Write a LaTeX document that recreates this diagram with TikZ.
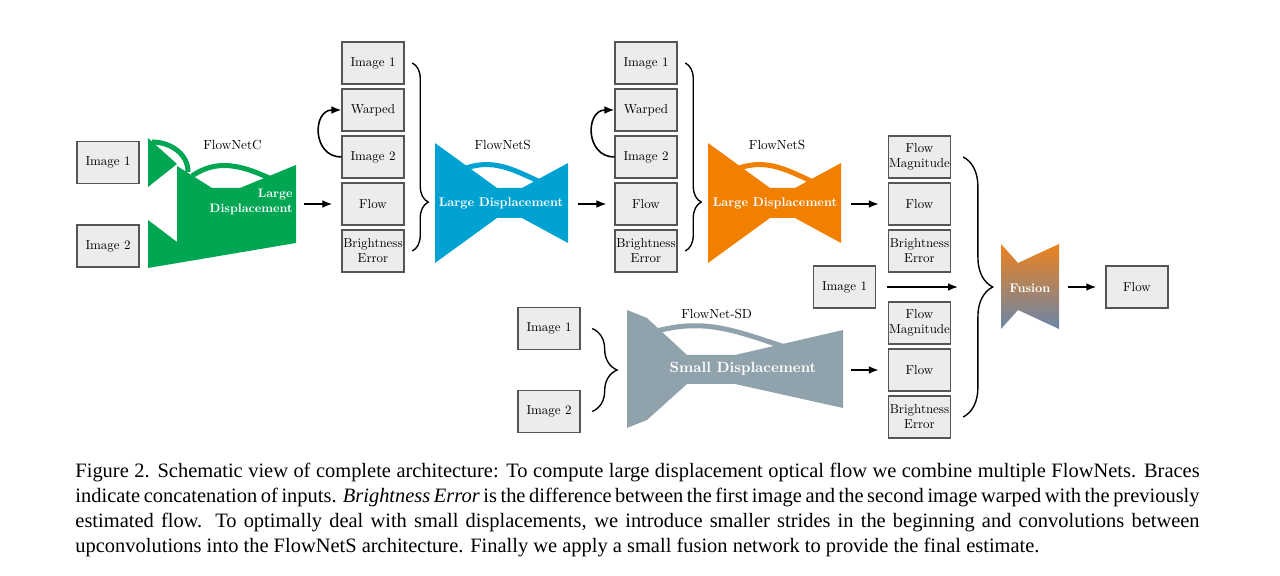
\documentclass[tikz,border=0pt]{standalone}
\usepackage{fontspec}
\usetikzlibrary{arrows.meta,decorations.pathreplacing}
\newfontfamily\capfont{Liberation Serif}
\newfontfamily\lmten{lmroman10-regular.otf}[BoldFont=lmroman10-bold.otf]
\definecolor{netc}{RGB}{0,166,81}
\definecolor{nets}{RGB}{0,162,210}
\definecolor{netso}{RGB}{242,128,0}
\definecolor{netsd}{RGB}{144,162,172}
\definecolor{fusetop}{RGB}{236,130,30}
\definecolor{fusebot}{RGB}{106,134,168}
\definecolor{boxfill}{RGB}{236,236,236}
\definecolor{boxline}{RGB}{85,85,85}

\begin{document}
\begin{tikzpicture}[x=0.44pt,y=-0.44pt,
  inp/.style={draw=boxline,line width=0.5pt,fill=boxfill,minimum width=27.3pt,minimum height=18.5pt,inner sep=0pt,align=center,font=\lmten\fontsize{5.7}{6.6}\selectfont},
  ttl/.style={font=\lmten\fontsize{5.8}{7}\selectfont},
  lbl/.style={text=white,inner sep=0pt,font=\lmten\bfseries\fontsize{5.5}{7}\selectfont},
  arr/.style={-{Latex[length=4.4pt,width=3.4pt]},line width=0.7pt},
  brc/.style={decorate,line width=0.6pt}]
  \useasboundingbox (0,0) rectangle (1280,576);

  % FlowNetC
  \fill[netc] (148,138) -- (177,164) -- (148,187) -- cycle;
  \fill[netc] (177,166) -- (212,188) -- (240,188) -- (296,165) -- (296,243) -- (148,268) -- (148,220) -- (177,242) -- cycle;
  \draw[netc,line width=2.2pt] (152,142) to[out=0,in=90] (188,172);
  \draw[netc,line width=2.2pt] (192,176) to[out=35,in=155] (269,178);
  % FlowNetS
  \foreach \col/\dx in {nets/0, netso/273} {
    \fill[\col] (435+\dx,143) -- (497+\dx,188) -- (522+\dx,188) -- (568+\dx,163) -- (568+\dx,243) -- (522+\dx,218) -- (497+\dx,218) -- (435+\dx,263) -- cycle;
    \draw[\col,line width=2.2pt] (466+\dx,168) to[out=18,in=155] (538+\dx,181);
  }
  % FlowNet-SD
  \fill[netsd] (627,310) -- (647,318) -- (687,355) -- (735,355) -- (843,330) -- (843,408) -- (735,384) -- (687,384) -- (647,420) -- (627,428) -- cycle;
  \draw[netsd,line width=2.2pt] (657,331) to[out=15,in=162] (785,347);
  % Fusion
  \shade[top color=fusetop,bottom color=fusebot] (1001,244) -- (1018,263) -- (1059,244) -- (1059,329) -- (1018,310) -- (1001,329) -- cycle;

  % 网络名称
  \node[ttl] (t-c) at (232.5,145) {FlowNetC};
  \node[ttl] (t-s1) at (502.7,145) {FlowNetS};
  \node[ttl] (t-s2) at (777,145) {FlowNetS};
  \node[ttl] (t-sd) at (716.7,314) {FlowNet-SD};
  \node[lbl,align=right,anchor=east,font=\lmten\bfseries\fontsize{5.4}{7}\selectfont] (l-c) at (293,202) {Large\\Displacement};
  \node[lbl] (l-s1) at (501,203) {Large Displacement};
  \node[lbl] (l-s2) at (775,203) {Large Displacement};
  \node[lbl,font=\lmten\bfseries\fontsize{6.5}{8}\selectfont] (l-sd) at (743,369) {Small Displacement};
  \node[lbl] (l-f) at (1030,288) {Fusion};

  % 输入
  \node[inp] (c-img1) at (108,162.5) {Image 1};
  \node[inp] (c-img2) at (108,246) {Image 2};
  \foreach \s/\x in {1/373, 2/646}
    \foreach \n/\t/\y in {img1/Image 1/63, warp/Warped/110, img2/Image 2/157, flow/Flow/204, err/{Brightness\\Error}/251}
      \node[inp] (s\s-\n) at (\x,\y) {\t};
  \foreach \n/\t/\y in {fm1/{Flow\\Magnitude}/157, fl1/Flow/204, be1/{Brightness\\Error}/251, fm2/{Flow\\Magnitude}/323, fl2/Flow/370, be2/{Brightness\\Error}/417}
    \node[inp] (r-\n) at (919.5,\y) {\t};
  \node[inp] (sd-img1) at (549,328.5) {Image 1};
  \node[inp] (sd-img2) at (549,411.5) {Image 2};
  \node[inp] (f-img1) at (844.5,287) {Image 1};
  \node[inp] (f-flow) at (1137,287) {Flow};

  % 变形
  \foreach \s in {1,2}
    \draw[arr] (s\s-img2.west) to[out=180,in=180,looseness=1.6] (s\s-warp.west);
  % 拼接括号
  \foreach \s in {1,2}
    \draw[brc,decoration={brace,amplitude=7pt,aspect=0.74}] ([xshift=3.4pt]s\s-img1.east) -- ([xshift=3.4pt]s\s-err.east);
  \draw[brc,decoration={brace,amplitude=13pt}] ([xshift=5.3pt]r-fm1.east) -- ([xshift=5.3pt]r-be2.east);
  \draw[brc,decoration={brace,amplitude=11pt}] ([xshift=5.1pt]sd-img1.east) -- ([xshift=5.1pt]sd-img2.east);

  % 箭头
  \coordinate (c-out) at (304,204);
  \coordinate (s1-out) at (578,204);
  \coordinate (s2-out) at (851,204);
  \coordinate (sd-out) at (851,370);
  \coordinate (f-in) at (958,287);
  \coordinate (f-out) at (1068,287);
  \draw[arr,shorten >=4pt] (c-out) -- (s1-flow.west);
  \draw[arr,shorten >=3.5pt] (s1-out) -- (s2-flow.west);
  \draw[arr,shorten >=4pt] (s2-out) -- (r-fl1.west);
  \draw[arr,shorten >=4pt] (sd-out) -- (r-fl2.west);
  \draw[arr,shorten <=4.8pt] (f-img1.east) -- (f-in);
  \draw[arr,shorten >=4pt] (f-out) -- (f-flow.west);

  % 图注
  \node[anchor=north west,inner sep=0pt,text width=494.6pt,align=justify,font=\capfont\fontsize{9}{11}\selectfont] (cap) at (75,463)
    {Figure 2. Schematic view of complete architecture: To compute large displacement optical flow we combine multiple FlowNets. Braces\linebreak
     indicate concatenation of inputs. \textit{Brightness Error} is the difference between the first image and the second image warped with the previously\linebreak
     estimated flow. To optimally deal with small displacements, we introduce smaller strides in the beginning and convolutions between\linebreak
     upconvolutions into the FlowNetS architecture. Finally we apply a small fusion network to provide the final estimate.};
\end{tikzpicture}
\end{document}
